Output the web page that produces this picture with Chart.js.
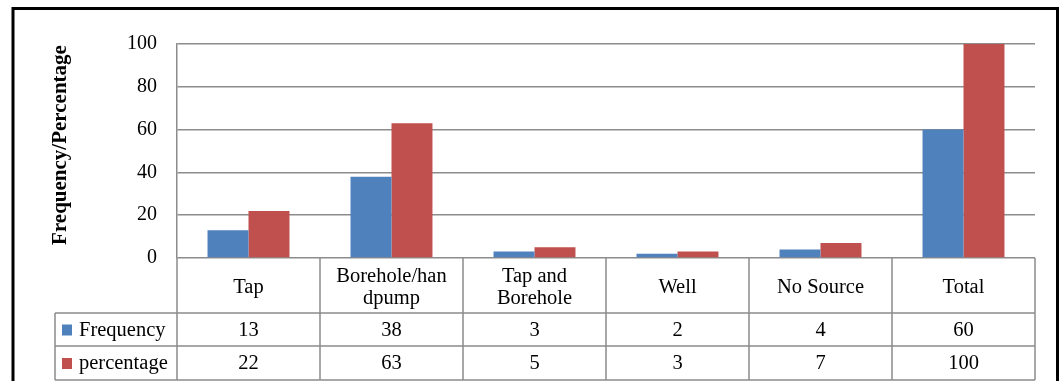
<!DOCTYPE html>
<html>
<head>
<meta charset="utf-8">
<script src="https://cdn.jsdelivr.net/npm/chart.js@4"></script>
<style>
  body { margin: 0; background: #fff; }
  #wrap { width: 1059px; height: 381px; }
</style>
</head>
<body>
<div id="wrap"><canvas id="chart" width="1059" height="381"></canvas></div>
<script>
const categories = [["Tap"], ["Borehole/han", "dpump"], ["Tap and", "Borehole"], ["Well"], ["No Source"], ["Total"]];
const frequency = [13, 38, 3, 2, 4, 60];
const percentage = [22, 63, 5, 3, 7, 100];
const seriesNames = ["Frequency", "percentage"];
const yTicks = [0, 20, 40, 60, 80, 100];
const yTitle = "Frequency/Percentage";

const serif = '"Liberation Serif", "Times New Roman", serif';
const gridColor = "#8c8c8c";

// draws the data table under the plot, the y title and the black frame
const tablePlugin = {
  id: "dataTable",
  afterDraw(chart) {
    const { ctx, chartArea, scales } = chart;
    const x = scales.x;
    const left = chartArea.left, right = chartArea.right;
    const top = chartArea.bottom;
    const catBottom = top + 55;
    const freqBottom = catBottom + 33;
    const pctBottom = 380;
    const legendLeft = 55;
    const n = categories.length;

    const edges = [left];
    for (let i = 0; i < n - 1; i++) {
      edges.push((x.getPixelForValue(i) + x.getPixelForValue(i + 1)) / 2);
    }
    edges.push(right);

    ctx.save();
    ctx.strokeStyle = gridColor;
    ctx.lineWidth = 1.5;
    ctx.beginPath();
    [catBottom, freqBottom, pctBottom].forEach(y => {
      ctx.moveTo(legendLeft, y);
      ctx.lineTo(right, y);
    });
    edges.forEach(ex => {
      ctx.moveTo(ex, top);
      ctx.lineTo(ex, pctBottom);
    });
    ctx.moveTo(legendLeft, catBottom);
    ctx.lineTo(legendLeft, pctBottom);
    ctx.stroke();

    ctx.fillStyle = "#000";
    ctx.font = "20.5px " + serif;
    ctx.textAlign = "center";
    ctx.textBaseline = "middle";
    categories.forEach((lines, i) => {
      const cx = x.getPixelForValue(i);
      const cy = (top + catBottom) / 2 + 2;
      const lh = 22;
      lines.forEach((t, j) => {
        ctx.fillText(t, cx, cy + (j - (lines.length - 1) / 2) * lh);
      });
    });

    const rows = [[frequency, catBottom, freqBottom], [percentage, freqBottom, pctBottom]];
    rows.forEach(([vals, y0, y1], r) => {
      const cy = (y0 + y1) / 2 + 1;
      ctx.textAlign = "center";
      vals.forEach((v, i) => ctx.fillText(String(v), x.getPixelForValue(i), cy));
      ctx.fillStyle = chart.data.datasets[r].backgroundColor;
      ctx.fillRect(62, cy - 6, 10, 11);
      ctx.fillStyle = "#000";
      ctx.textAlign = "left";
      ctx.fillText(seriesNames[r], 79, cy);
    });

    // y axis title
    ctx.save();
    ctx.translate(61, 145);
    ctx.rotate(-Math.PI / 2);
    ctx.font = "bold 21px " + serif;
    ctx.textAlign = "center";
    ctx.fillText(yTitle, 0, 0);
    ctx.restore();

    // outer frame
    ctx.strokeStyle = "#000";
    ctx.lineWidth = 3;
    ctx.beginPath();
    ctx.moveTo(13, 381);
    ctx.lineTo(13, 8.5);
    ctx.lineTo(1057.5, 8.5);
    ctx.lineTo(1057.5, 381);
    ctx.stroke();
    ctx.restore();
  }
};

new Chart(document.getElementById("chart"), {
  type: "bar",
  data: {
    labels: categories.map(c => c.join(" ")),
    datasets: [
      { label: seriesNames[0], data: frequency, backgroundColor: "#4F81BD" },
      { label: seriesNames[1], data: percentage, backgroundColor: "#C0504D" }
    ]
  },
  options: {
    responsive: false,
    animation: false,
    layout: { padding: { left: 14, right: 24, top: 44, bottom: 123 } },
    plugins: { legend: { display: false }, tooltip: { enabled: false } },
    datasets: { bar: { categoryPercentage: 0.573, barPercentage: 1 } },
    scales: {
      x: { display: false },
      y: {
        min: 0,
        max: 100,
        afterFit(scale) { scale.width = 163; },
        afterBuildTicks(scale) { scale.ticks = yTicks.map(v => ({ value: v })); },
        grid: { color: gridColor, lineWidth: 1.5, drawTicks: false },
        border: { color: gridColor, width: 1.5 },
        ticks: { color: "#000", font: { family: serif, size: 20 }, padding: 20 }
      }
    }
  },
  plugins: [tablePlugin]
});
</script>
</body>
</html>
